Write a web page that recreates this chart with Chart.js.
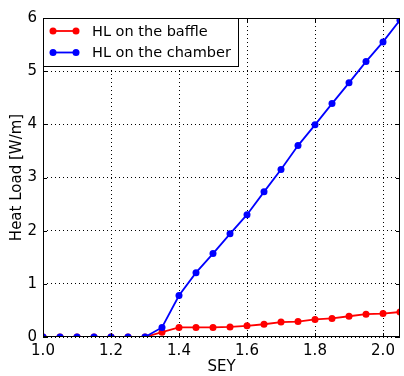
<!DOCTYPE html>
<html>
<head>
<meta charset="utf-8">
<script src="https://cdn.jsdelivr.net/npm/chart.js@4/dist/chart.umd.min.js"></script>
<style>
  html, body { margin: 0; padding: 0; background: #fff; }
  #wrap { width: 404px; height: 376px; }
</style>
</head>
<body>
<div id="wrap"><canvas id="hl"></canvas></div>
<script>
// SEY scan, heat load on baffle and chamber
var sey = [1.0, 1.05, 1.1, 1.15, 1.2, 1.25, 1.3, 1.35, 1.4, 1.45, 1.5, 1.55,
           1.6, 1.65, 1.7, 1.75, 1.8, 1.85, 1.9, 1.95, 2.0, 2.05];
var hlBaffle = [0, 0, 0, 0, 0, 0, 0, 0.09, 0.18, 0.18, 0.18, 0.19,
                0.21, 0.24, 0.28, 0.29, 0.33, 0.35, 0.39, 0.43, 0.44, 0.47];
var hlChamber = [0, 0, 0, 0, 0, 0, 0, 0.18, 0.78, 1.21, 1.57, 1.94,
                 2.30, 2.73, 3.15, 3.60, 3.99, 4.39, 4.78, 5.18, 5.55, 5.96];
var xTicks = [1.0, 1.2, 1.4, 1.6, 1.8, 2.0];
var yTicks = [0, 1, 2, 3, 4, 5, 6];
var seriesNames = ["HL on the baffle", "HL on the chamber"];
var seriesColors = ["#ff0000", "#0000ff"];

var FONT = "'DejaVu Sans', sans-serif";

function pts(ys) {
  return sey.map(function (x, i) { return { x: x, y: ys[i] }; });
}

// inward tick marks on all four sides + frame, matplotlib style
var frameTicks = {
  id: "frameTicks",
  afterDatasetsDraw: function (chart) {
    var c = chart.ctx, a = chart.chartArea;
    var xs = chart.scales.x, ys = chart.scales.y;
    c.save();
    c.strokeStyle = "#000";
    c.lineWidth = 1;
    c.beginPath();
    xTicks.forEach(function (v) {
      var px = Math.round(xs.getPixelForValue(v)) + 0.5;
      c.moveTo(px, a.bottom); c.lineTo(px, a.bottom - 4);
      c.moveTo(px, a.top); c.lineTo(px, a.top + 4);
    });
    yTicks.forEach(function (v) {
      var py = Math.round(ys.getPixelForValue(v)) + 0.5;
      c.moveTo(a.left, py); c.lineTo(a.left + 4, py);
      c.moveTo(a.right, py); c.lineTo(a.right - 4, py);
    });
    c.stroke();
    c.strokeRect(a.left + 0.5, a.top + 0.5, a.right - a.left - 1, a.bottom - a.top - 1);
    c.restore();
  }
};

// boxed legend in the upper-left corner of the plot
var boxLegend = {
  id: "boxLegend",
  afterDraw: function (chart) {
    var c = chart.ctx, a = chart.chartArea;
    var x0 = a.left, y0 = a.top, w = 195, h = 48;
    c.save();
    c.fillStyle = "#fff";
    c.fillRect(x0, y0, w, h);
    c.strokeStyle = "#000";
    c.lineWidth = 1;
    c.strokeRect(x0 + 0.5, y0 + 0.5, w, h);
    c.font = "14.5px " + FONT;
    c.textBaseline = "middle";
    seriesNames.forEach(function (name, i) {
      var y = y0 + 13 + i * 21.5;
      c.strokeStyle = seriesColors[i];
      c.fillStyle = seriesColors[i];
      c.lineWidth = 1.8;
      c.beginPath();
      c.moveTo(x0 + 10, y); c.lineTo(x0 + 33, y);
      c.stroke();
      [x0 + 10, x0 + 33].forEach(function (px) {
        c.beginPath(); c.arc(px, y, 3.5, 0, Math.PI * 2); c.fill();
      });
      c.fillStyle = "#000";
      c.fillText(name, x0 + 49, y + 1);
    });
    c.restore();
  }
};

new Chart(document.getElementById("hl"), {
  type: "line",
  data: {
    datasets: [
      {
        label: seriesNames[0],
        data: pts(hlBaffle),
        borderColor: seriesColors[0],
        backgroundColor: seriesColors[0],
        borderWidth: 1.8,
        pointRadius: 3.5,
        pointBorderWidth: 0,
        tension: 0,
        order: 1
      },
      {
        label: seriesNames[1],
        data: pts(hlChamber),
        borderColor: seriesColors[1],
        backgroundColor: seriesColors[1],
        borderWidth: 1.8,
        pointRadius: 3.5,
        pointBorderWidth: 0,
        tension: 0,
        order: 0
      }
    ]
  },
  options: {
    responsive: true,
    maintainAspectRatio: false,
    animation: false,
    layout: { padding: { top: 18, right: 1, left: 0, bottom: 0 } },
    plugins: {
      legend: { display: false },
      tooltip: { enabled: false }
    },
    scales: {
      x: {
        type: "linear",
        min: 1.0,
        max: 2.05,
        afterBuildTicks: function (s) { s.ticks = xTicks.map(function (v) { return { value: v }; }); },
        afterFit: function (s) { s.height = 39; },
        grid: { color: "#000", lineWidth: 1, drawTicks: false },
        border: { display: false, dash: [1, 3] },
        ticks: {
          color: "#000",
          padding: 5,
          maxRotation: 0,
          font: { family: FONT, size: 15 },
          callback: function (v) { return v.toFixed(1); }
        },
        title: {
          display: true,
          text: "SEY",
          color: "#000",
          padding: { top: 0, bottom: 0 },
          font: { family: FONT, size: 15 }
        }
      },
      y: {
        min: 0,
        max: 6,
        afterBuildTicks: function (s) { s.ticks = yTicks.map(function (v) { return { value: v }; }); },
        afterFit: function (s) { s.width = 43; },
        grid: { color: "#000", lineWidth: 1, drawTicks: false },
        border: { display: false, dash: [1, 3] },
        ticks: {
          color: "#000",
          padding: 6,
          font: { family: FONT, size: 15 }
        },
        title: {
          display: true,
          text: "Heat Load [W/m]",
          color: "#000",
          padding: { top: 8, bottom: 0 },
          font: { family: FONT, size: 15 }
        }
      }
    }
  },
  plugins: [frameTicks, boxLegend]
});
</script>
</body>
</html>
